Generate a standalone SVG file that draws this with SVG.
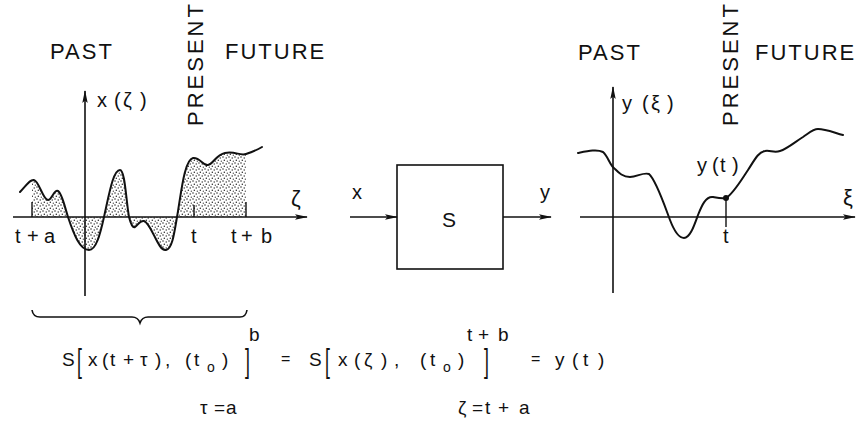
<svg xmlns="http://www.w3.org/2000/svg" width="856" height="435" viewBox="0 0 856 435">
<style>
  text { font-family: "Liberation Sans", Arial, sans-serif; fill: #111; }
  .hd { font-size: 22px; letter-spacing: 2px; }
  .pr { font-size: 22px; letter-spacing: 3px; }
  .lb { font-size: 20px; }
  .eq { font-size: 19px; }
  .br { font-size: 22px; }
  .sub { font-size: 14px; }
  .ax { stroke: #111; stroke-width: 1.6; fill: none; }
  .cv { stroke: #111; stroke-width: 2; fill: none; stroke-linejoin: round; stroke-linecap: round; }
  .tk { stroke: #111; stroke-width: 1.4; }
</style>
<defs>
  <marker id="ah" viewBox="0 0 13 6" refX="12" refY="3" markerWidth="13" markerHeight="6" orient="auto" markerUnits="userSpaceOnUse">
    <path d="M0,0.3 L13,3 L0,5.7 L2.5,3 Z" fill="#111"/>
  </marker>
  <pattern id="dots" width="6" height="6" patternUnits="userSpaceOnUse">
    <circle cx="1" cy="1" r="0.75" fill="#222"/>
    <circle cx="4.2" cy="2" r="0.7" fill="#222"/>
    <circle cx="2.3" cy="4.3" r="0.75" fill="#222"/>
    <circle cx="5.3" cy="5.2" r="0.6" fill="#222"/>
  </pattern>
  <clipPath id="shadeclip"><rect x="32" y="0" width="214" height="300"/></clipPath>
</defs>

<g id="left-graph">
  <text class="hd" x="50" y="59">PAST</text>
  <text class="hd" x="225" y="59">FUTURE</text>
  <text class="pr" transform="translate(203,126) rotate(-90)">PRESENT</text>
  <path clip-path="url(#shadeclip)" fill="url(#dots)" stroke="none" d="M20,192 C26,186 30,179 34,180 C39,181 43,200 48,200 C52,200 54,189 58,191 C62,193 65,208 68,217 C74,235 80,250 89,250 C96,250 100,235 104,217 C109,195 113,170 120,170 C125,170 126,200 129,217 C131,225 133,228 135,227 C138,225 140,220 144,221 C152,224 158,252 166,250 C172,249 174,235 177,217 C181,195 184,160 193,158 C200,157 203,166 208,165 C213,164 216,155 225,153 C235,151 240,156 246,154 C252,152 257,150 262,147 L262,217 L20,217 Z"/>
  <line class="ax" x1="13" y1="217" x2="307" y2="217" marker-end="url(#ah)"/>
  <line class="ax" x1="85" y1="296" x2="85" y2="91" marker-end="url(#ah)"/>
  <path class="cv" d="M20,192 C26,186 30,179 34,180 C39,181 43,200 48,200 C52,200 54,189 58,191 C62,193 65,208 68,217 C74,235 80,250 89,250 C96,250 100,235 104,217 C109,195 113,170 120,170 C125,170 126,200 129,217 C131,225 133,228 135,227 C138,225 140,220 144,221 C152,224 158,252 166,250 C172,249 174,235 177,217 C181,195 184,160 193,158 C200,157 203,166 208,165 C213,164 216,155 225,153 C235,151 240,156 246,154 C252,152 257,150 262,147"/>
  <line class="tk" x1="32" y1="202" x2="32" y2="217"/>
  <line class="tk" x1="194" y1="205" x2="194" y2="217"/>
  <line class="tk" x1="246" y1="202" x2="246" y2="217"/>
  <text class="lb" x="97 114 123 140" y="107">x(ζ)</text>
  <text class="lb" style="font-size:22px" x="291" y="206">ζ</text>
  <text class="lb" x="15 27 44" y="243">t+a</text>
  <text class="lb" x="191" y="243">t</text>
  <text class="lb" x="231 241 261" y="243">t+b</text>
  <path class="ax" d="M32,310 Q33,317 40,317 L132,317 Q138,317 140,323 Q142,317 148,317 L240,317 Q246,317 247,310"/>
</g>

<g id="system-S">
  <rect x="397" y="165" width="106" height="104" fill="none" stroke="#111" stroke-width="1.6"/>
  <text x="449" y="227" text-anchor="middle" style="font-size:21px">S</text>
</g>

<g id="connectors">
  <line class="ax" x1="350" y1="217" x2="397" y2="217" marker-end="url(#ah)"/>
  <line class="ax" x1="503" y1="217" x2="551" y2="217" marker-end="url(#ah)"/>
  <text class="lb" x="352" y="199">x</text>
  <text class="lb" x="540" y="199">y</text>
</g>

<g id="right-graph">
  <text class="hd" x="578" y="60">PAST</text>
  <text class="hd" x="755" y="60">FUTURE</text>
  <text class="pr" transform="translate(738,126) rotate(-90)">PRESENT</text>
  <line class="ax" x1="580" y1="217" x2="855" y2="217" marker-end="url(#ah)"/>
  <line class="ax" x1="613" y1="293" x2="613" y2="87" marker-end="url(#ah)"/>
  <path class="cv" d="M578,153 C588,151 597,149 603,152 C608,156 610,166 615,169 C619,173 623,177 630,177 C637,177 643,172 649,174 C656,180 664,204 670,220 C675,233 679,238 684,238 C690,238 694,226 698,215 C702,205 706,196 713,197 C718,198 722,199 726,198 C733,194 740,182 748,170 C754,161 758,152 765,151 C770,150 774,153 780,151 C787,149 795,142 803,137 C809,133 813,129 818,129 C826,129 835,133 843,135"/>
  <circle cx="726" cy="198" r="3" fill="#111"/>
  <line class="tk" x1="726" y1="200" x2="726" y2="227"/>
  <text class="lb" x="622 642 651 667" y="110">y(ξ)</text>
  <text class="lb" x="697 712 720 732" y="172">y(t)</text>
  <text class="lb" style="font-size:22px" x="843" y="205">ξ</text>
  <text class="lb" x="723" y="243">t</text>
</g>

<g id="equation">
  <text class="eq" x="62" y="366">S</text>
  <text class="br" transform="translate(77,372) scale(0.8,1.55)">[</text>
  <text class="eq" x="88 102 110 123 140 155 165 185 194" y="366">x(t+τ),(t</text>
  <text class="sub" x="207" y="372">o</text>
  <text class="eq" x="222" y="366">)</text>
  <text class="br" transform="translate(245,372) scale(0.8,1.55)">]</text>
  <text class="eq" x="249" y="341">b</text>
  <text class="eq" x="200 214 226" y="414">τ=a</text>
  <text class="eq" x="281" y="364" style="font-size:16px">=</text>
  <text class="eq" x="309" y="366">S</text>
  <text class="br" transform="translate(325,372) scale(0.8,1.55)">[</text>
  <text class="eq" x="338 354 364 381 394 420 430" y="366">x(ζ),(t</text>
  <text class="sub" x="443" y="372">o</text>
  <text class="eq" x="458" y="366">)</text>
  <text class="br" transform="translate(484,372) scale(0.8,1.55)">]</text>
  <text class="eq" x="467 478 498" y="341">t+b</text>
  <text class="eq" x="458 472 485 498 519" y="414">ζ=t+a</text>
  <text class="eq" x="531" y="364" style="font-size:16px">=</text>
  <text class="eq" x="555 572 583 598" y="366">y(t)</text>
</g>
</svg>
